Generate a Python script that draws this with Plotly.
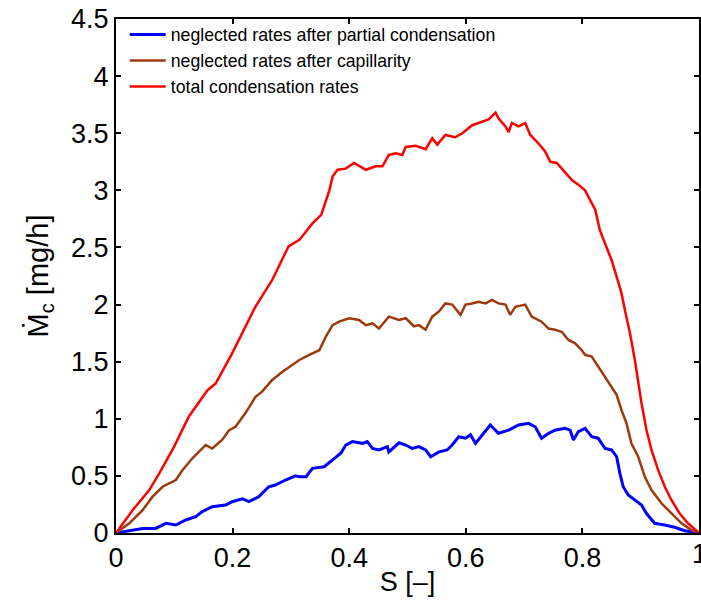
import plotly.graph_objects as go

# ---- data ----
s_total = [0, 0.0285, 0.057, 0.074, 0.0997, 0.125, 0.157, 0.171, 0.199, 0.2165, 0.239, 0.268, 0.296,
           0.3145, 0.337, 0.352, 0.360, 0.366, 0.3715, 0.380, 0.394, 0.4085, 0.4285, 0.4455, 0.457,
           0.468, 0.48, 0.491, 0.497, 0.514, 0.531, 0.5425, 0.551, 0.565, 0.582, 0.594, 0.611, 0.628,
           0.639, 0.651, 0.656, 0.668, 0.6735, 0.679, 0.6906, 0.702, 0.7106, 0.7248, 0.736, 0.745,
           0.756, 0.770, 0.782, 0.793, 0.8046, 0.813, 0.822, 0.830, 0.839, 0.850, 0.8587, 0.867,
           0.873, 0.8815, 0.890, 0.8957, 0.9014, 0.910, 0.9185, 0.930, 0.9413, 0.9527, 0.967, 0.981,
           0.998, 1.0]
m_total = [0, 0.20, 0.376, 0.52, 0.756, 1.02, 1.25, 1.31, 1.57, 1.75, 1.98, 2.215, 2.51,
           2.566, 2.71, 2.785, 2.916, 3.00, 3.12, 3.18, 3.19, 3.24, 3.18, 3.21, 3.21,
           3.31, 3.325, 3.31, 3.38, 3.39, 3.36, 3.456, 3.40, 3.485, 3.465, 3.50, 3.57, 3.60,
           3.62, 3.68, 3.63, 3.56, 3.51, 3.59, 3.56, 3.59, 3.485, 3.41, 3.34, 3.25,
           3.24, 3.16, 3.09, 3.05, 3.00, 2.916, 2.83, 2.65, 2.54, 2.39, 2.245, 2.10,
           1.95, 1.75, 1.515, 1.31, 1.136, 0.90, 0.727, 0.55, 0.405, 0.289, 0.17, 0.085,
           0.01, 0.0]

s_cap = [0, 0.0228, 0.0456, 0.0627, 0.0798, 0.1026, 0.114, 0.131, 0.148, 0.154, 0.165, 0.182, 0.194,
         0.205, 0.222, 0.239, 0.251, 0.268, 0.285, 0.302, 0.3145, 0.3316, 0.3487, 0.360, 0.3715,
         0.383, 0.400, 0.417, 0.4285, 0.440, 0.451, 0.468, 0.4855, 0.497, 0.511, 0.5197, 0.531,
         0.5425, 0.554, 0.565, 0.5766, 0.591, 0.5995, 0.611, 0.622, 0.634, 0.645, 0.656, 0.668,
         0.676, 0.685, 0.702, 0.713, 0.730, 0.742, 0.753, 0.765, 0.776, 0.7875, 0.799, 0.8046,
         0.816, 0.827, 0.839, 0.850, 0.8587, 0.867, 0.8757, 0.884, 0.8957, 0.907, 0.9185, 0.9356,
         0.9527, 0.970, 0.987, 1.0]
m_cap = [0, 0.085, 0.20, 0.318, 0.405, 0.464, 0.55, 0.654, 0.74, 0.77, 0.74, 0.814, 0.90,
         0.93, 1.05, 1.19, 1.24, 1.34, 1.41, 1.47, 1.515, 1.56, 1.60, 1.72, 1.82,
         1.85, 1.88, 1.865, 1.82, 1.836, 1.79, 1.894, 1.865, 1.88, 1.81, 1.82, 1.78,
         1.894, 1.94, 2.01, 2.00, 1.91, 2.00, 2.01, 2.025, 2.01, 2.04, 2.01, 2.00,
         1.91, 1.98, 2.00, 1.894, 1.85, 1.79, 1.78, 1.76, 1.69, 1.66, 1.60, 1.56,
         1.544, 1.456, 1.37, 1.28, 1.21, 1.077, 0.96, 0.785, 0.668, 0.493, 0.376, 0.26,
         0.17, 0.085, 0.026, 0.0]

s_part = [0, 0.0285, 0.0456, 0.068, 0.0855, 0.1026, 0.1197, 0.1368, 0.148, 0.165, 0.188, 0.1995,
          0.2165, 0.228, 0.245, 0.262, 0.2735, 0.2906, 0.3077, 0.3145, 0.326, 0.337, 0.357, 0.3715,
          0.386, 0.394, 0.4056, 0.423, 0.431, 0.440, 0.451, 0.4655, 0.468, 0.4855, 0.497, 0.508,
          0.5197, 0.531, 0.5397, 0.554, 0.568, 0.5766, 0.588, 0.5995, 0.608, 0.6166, 0.628, 0.642,
          0.656, 0.6735, 0.6906, 0.7077, 0.719, 0.730, 0.742, 0.753, 0.770, 0.779, 0.7846, 0.793,
          0.8046, 0.816, 0.827, 0.839, 0.850, 0.8587, 0.8644, 0.870, 0.8786, 0.890, 0.9014, 0.910,
          0.924, 0.9413, 0.958, 0.9755, 0.993, 1.0]
m_part = [0, 0.026, 0.04, 0.04, 0.085, 0.07, 0.114, 0.143, 0.187, 0.23, 0.245, 0.274,
          0.30, 0.274, 0.318, 0.405, 0.42, 0.464, 0.50, 0.493, 0.493, 0.566, 0.58, 0.64,
          0.70, 0.77, 0.80, 0.785, 0.80, 0.74, 0.727, 0.756, 0.71, 0.79, 0.77, 0.74,
          0.756, 0.727, 0.668, 0.71, 0.727, 0.77, 0.843, 0.83, 0.86, 0.785, 0.86, 0.946,
          0.873, 0.90, 0.946, 0.96, 0.93, 0.83, 0.873, 0.90, 0.916, 0.90, 0.814, 0.887,
          0.916, 0.843, 0.83, 0.74, 0.727, 0.668, 0.52, 0.405, 0.333, 0.289, 0.245, 0.17,
          0.085, 0.07, 0.05, 0.02, 0.003, 0]

names = ["neglected rates after partial condensation",
         "neglected rates after capillarity",
         "total condensation rates"]
x_ticks = [0, 0.2, 0.4, 0.6, 0.8, 1]
x_labels = ["0", "0.2", "0.4", "0.6", "0.8", "1"]
y_ticks = [0, 0.5, 1, 1.5, 2, 2.5, 3, 3.5, 4, 4.5]
y_labels = ["0", "0.5", "1", "1.5", "2", "2.5", "3", "3.5", "4", "4.5"]

fig = go.Figure()
fig.add_trace(go.Scatter(x=s_part, y=m_part, mode="lines", name=names[0],
                         line=dict(color="#0000FF", width=3)))
fig.add_trace(go.Scatter(x=s_cap, y=m_cap, mode="lines", name=names[1],
                         line=dict(color="#9C3A0C", width=2.5)))
fig.add_trace(go.Scatter(x=s_total, y=m_total, mode="lines", name=names[2],
                         line=dict(color="#FF0000", width=2.5)))

axis_common = dict(showgrid=False, zeroline=False, showline=True, linecolor="black", linewidth=2,
                   mirror="ticks", ticks="inside", ticklen=5, tickwidth=1.5, tickcolor="black",
                   tickfont=dict(family="Liberation Sans, Arial", size=27, color="black"))

fig.update_layout(
    width=701, height=601,
    margin=dict(l=116, r=0, t=19, b=68),
    paper_bgcolor="white", plot_bgcolor="white",
    font=dict(family="Liberation Sans, Arial", color="black"),
    xaxis=dict(range=[0, 1], tickvals=x_ticks, ticktext=x_labels,
               title=dict(text="S [–]", font=dict(size=27), standoff=0), **axis_common),
    yaxis=dict(range=[0, 4.5], tickvals=y_ticks, ticktext=y_labels,
               title=dict(text="Ṁ<sub>c</sub> [mg/h]", font=dict(size=29), standoff=14), **axis_common),
    legend=dict(x=0.015, y=1.005, xanchor="left", yanchor="top", bgcolor="rgba(0,0,0,0)",
                font=dict(size=17.7, color="black"), tracegroupgap=0, itemwidth=36),
    showlegend=True,
)

# the last x tick label, which sits on the figure's right edge and is cut off there
fig.add_annotation(x=x_ticks[-1], y=0, xref="x", yref="paper", text=x_labels[-1],
                   showarrow=False, xanchor="center", yanchor="top", yshift=-4,
                   font=dict(family="Liberation Sans, Arial", size=27, color="black"))

fig.write_html("out.html", config={"displayModeBar": False},
               post_script="document.body.style.margin='0';document.body.style.overflow='hidden';")
